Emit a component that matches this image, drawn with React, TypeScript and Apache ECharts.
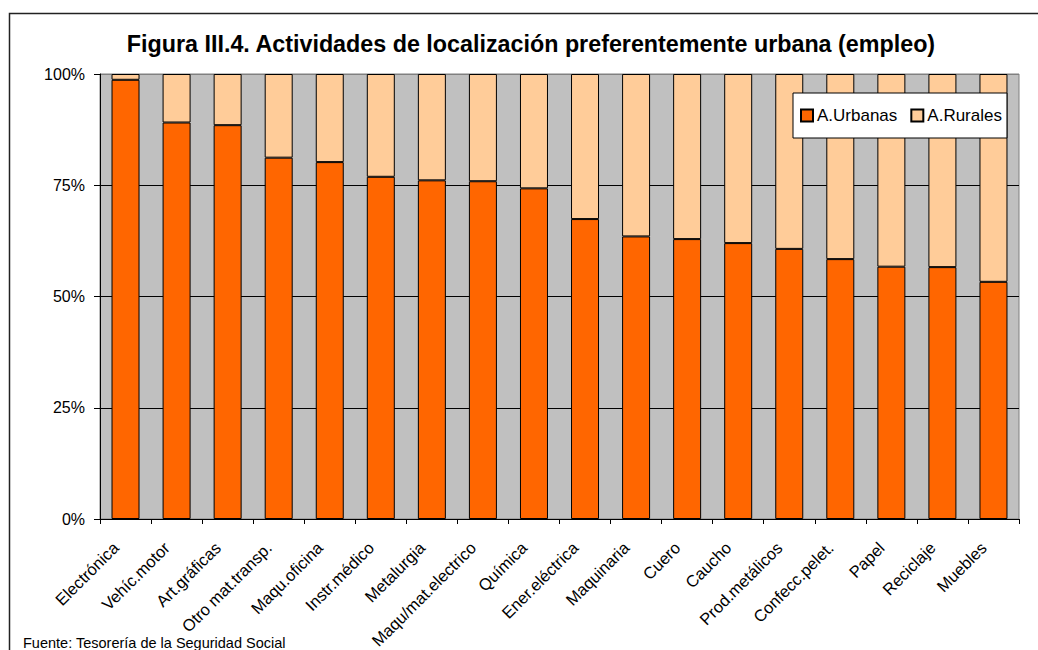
import React, { useEffect, useRef } from "react";
import * as echarts from "echarts";

const categories = [
  "Electrónica", "Vehíc.motor", "Art.gráficas", "Otro mat.transp.", "Maqu.oficina",
  "Instr.médico", "Metalurgia", "Maqu/mat.electrico", "Química", "Ener.eléctrica",
  "Maquinaria", "Cuero", "Caucho", "Prod.metálicos", "Confecc.pelet.", "Papel",
  "Reciclaje", "Muebles",
];
const urbanas = [98.7, 89.1, 88.5, 81.2, 80.2, 76.9, 76.1, 75.9, 74.3, 67.4, 63.5, 62.9, 62.0, 60.7, 58.4, 56.7, 56.6, 53.3];
const rurales = [1.3, 10.9, 11.5, 18.8, 19.8, 23.1, 23.9, 24.1, 25.7, 32.6, 36.5, 37.1, 38.0, 39.3, 41.6, 43.3, 43.4, 46.7];
const seriesNames = ["A.Urbanas", "A.Rurales"];
const titleText = "Figura III.4. Actividades de localización preferentemente urbana (empleo)";
const sourceText = "Fuente: Tesorería de la Seguridad Social";

const FONT = "'Liberation Sans', Arial, sans-serif";

export default function App() {
  const ref = useRef<HTMLDivElement>(null);
  useEffect(() => {
    if (!ref.current) return;
    const chart = echarts.init(ref.current, null, { renderer: "svg" });
    chart.setOption({
      animation: false,
      backgroundColor: "#ffffff",
      textStyle: { fontFamily: FONT, color: "#000" },
      title: {
        text: titleText,
        left: 531,
        top: 32,
        textAlign: "center",
        padding: 0,
        textStyle: { fontFamily: FONT, fontSize: 23.3, fontWeight: "bold", color: "#000" },
      },
      legend: {
        left: 793,
        top: 93,
        orient: "horizontal",
        icon: "rect",
        itemWidth: 12,
        itemHeight: 12,
        itemGap: 13,
        padding: [14, 5, 14, 7],
        backgroundColor: "#ffffff",
        borderColor: "#000",
        borderWidth: 1,
        borderRadius: 0,
        textStyle: { fontFamily: FONT, fontSize: 17, color: "#000", padding: [0, 0, 0, -1] },
        data: seriesNames,
      },
      grid: {
        left: 100,
        right: 19,
        top: 74,
        bottom: 131,
        show: true,
        backgroundColor: "#C0C0C0",
        borderColor: "#808080",
        borderWidth: 1,
        containLabel: false,
        outerBoundsMode: "none",
      },
      xAxis: {
        type: "category",
        data: categories,
        axisLine: { show: true, lineStyle: { color: "#000", width: 1 } },
        axisTick: { show: true, length: 5, lineStyle: { color: "#000" } },
        axisLabel: {
          interval: 0,
          rotate: 45,
          margin: 16,
          padding: [0, 14, 0, 0],
          fontFamily: FONT,
          fontSize: 16.5,
          color: "#000",
        },
      },
      yAxis: {
        type: "value",
        min: 0,
        max: 100,
        interval: 25,
        axisLine: { show: true, lineStyle: { color: "#000", width: 1 } },
        axisTick: { show: true, length: 6, lineStyle: { color: "#000" } },
        axisLabel: {
          formatter: "{value}%",
          margin: 15,
          fontFamily: FONT,
          fontSize: 16,
          color: "#000",
        },
        splitLine: {
          show: true,
          lineStyle: { color: ["#000", "#000", "#000", "#000", "#808080"], width: 1 },
        },
      },
      series: [
        {
          name: seriesNames[0],
          type: "bar",
          stack: "total",
          data: urbanas,
          barWidth: 28,
          itemStyle: { color: "#FF6600", borderColor: "#000", borderWidth: 1 },
        },
        {
          name: seriesNames[1],
          type: "bar",
          stack: "total",
          data: rurales,
          barWidth: 28,
          itemStyle: { color: "#FFCC99", borderColor: "#000", borderWidth: 1 },
        },
      ],
      graphic: [
        {
          type: "rect",
          shape: { x: 9.5, y: 13.5, width: 1200, height: 800 },
          style: { fill: "none", stroke: "#222", lineWidth: 1.5 },
          silent: true,
          z: 100,
        },
        {
          type: "text",
          x: 23,
          y: 643,
          style: {
            text: sourceText,
            fontFamily: FONT,
            fontSize: 14.5,
            fill: "#000",
            verticalAlign: "middle",
            align: "left",
          },
        },
      ],
    });
    return () => chart.dispose();
  }, []);
  return (
    <div
      ref={ref}
      style={{ position: "absolute", left: 0, top: 0, width: 1038, height: 650 }}
    />
  );
}
